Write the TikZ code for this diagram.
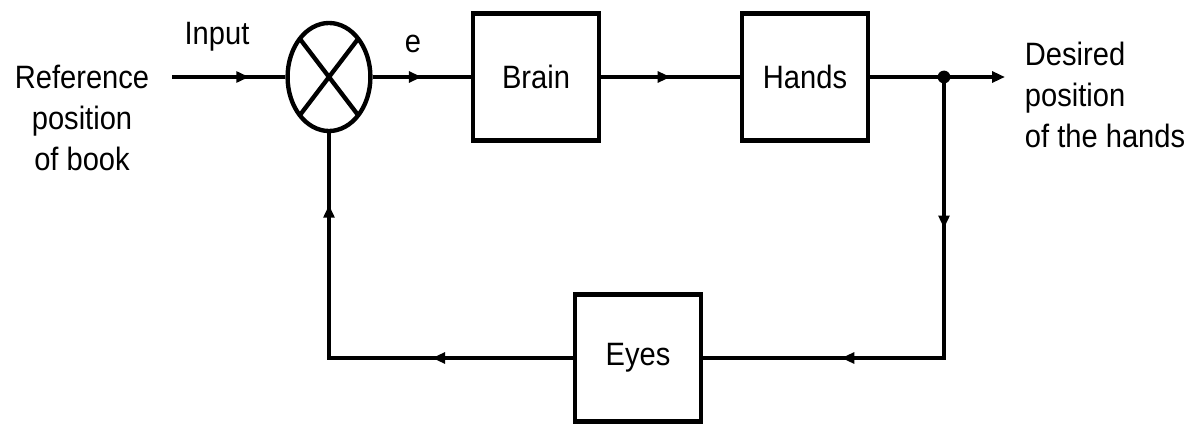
\documentclass[tikz,border=0pt]{standalone}
\usepackage{fontspec}
\setmainfont{Liberation Sans}[FakeStretch=0.9]
\usetikzlibrary{arrows.meta,decorations.markings,shapes.geometric,calc}
\begin{document}
\begin{tikzpicture}[x=0.025cm,y=-0.025cm,
  every node/.style={font=\fontsize{23}{29}\selectfont},
  blockbox/.style={draw,line width=3.1pt,minimum width=3.15cm,minimum height=3.18cm,inner sep=0pt},
  conn/.style={line width=2.4pt},
  tip/.style={-{Triangle[length=0.32cm,width=0.27cm]}},
  marr/.style={postaction={decorate,decoration={markings,mark=at position #1 with {\arrow{Triangle[length=0.32cm,width=0.27cm]}}}}},
]
\useasboundingbox (0,0) rectangle (1190,427);
% blocks
\node[ellipse,draw,line width=3.1pt,minimum width=2.07cm,minimum height=2.7cm,inner sep=0pt] (sum) at (329,77) {};
\draw[line width=3.1pt] ($(sum.center)+(-29,-38)$) -- ($(sum.center)+(29,38)$);
\draw[line width=3.1pt] ($(sum.center)+(-29,38)$) -- ($(sum.center)+(29,-38)$);
\node[blockbox] (brain) at (536,77) {Brain};
\node[blockbox] (hands) at (805,77) {Hands};
\node[blockbox] (eyes) at (638,358) {Eyes};
\node[circle,fill,inner sep=0pt,minimum size=0.32cm] (junc) at (944,77) {};
% labels
\node[align=center] (ref) at (82,118) {Reference\\position\\of book};
\node[anchor=base] (input) at (217,45) {Input};
\node[anchor=base] (elab) at (413,53) {e};
\node[anchor=base west,align=left] (out) at (1020,147) {Desired\\position\\of the hands};
% connectors
\coordinate (in) at (172,77);
\coordinate (outend) at (1005,77);
\draw[conn,marr=0.68] (in) -- (sum.west);
\draw[conn,marr=0.5] (sum.east) -- (brain.west);
\draw[conn,marr=0.5] (brain.east) -- (hands.west);
\draw[conn,tip] (hands.east) -- (outend);
\draw[conn,marr=0.29,marr=0.735] (junc.center) |- (eyes.east);
\draw[conn,marr=0.30,marr=0.847] (eyes.west) -| (sum.south);
\end{tikzpicture}
\end{document}
